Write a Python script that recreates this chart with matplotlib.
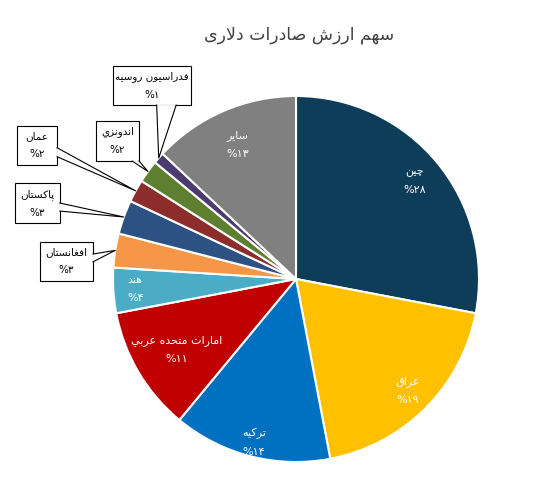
import numpy as np
import matplotlib.pyplot as plt
from matplotlib.patches import Rectangle, Polygon

# داده‌ها
title = 'سهم ارزش صادرات دلاری'
names = ['چین', 'عراق', 'ترکیه', 'امارات متحده عربي', 'هند', 'افغانستان',
         'پاکستان', 'عمان', 'اندونزي', 'فدراسیون روسیه', 'سایر']
shares = [28, 19, 14, 11, 4, 3, 3, 2, 2, 1, 13]
colors = ['#0D3D59', '#FFC000', '#0070C0', '#C00000', '#4BACC6', '#F79646',
          '#2E5183', '#8C2D2B', '#5F7F30', '#4B3B70', '#808080']

# حروف عربی/فارسی: (تنها، پایانی، آغازی، میانی)
FORMS = {
    'ا': (0xFE8D, 0xFE8E, None, None), 'ب': (0xFE8F, 0xFE90, 0xFE91, 0xFE92),
    'ت': (0xFE95, 0xFE96, 0xFE97, 0xFE98), 'ج': (0xFE9D, 0xFE9E, 0xFE9F, 0xFEA0),
    'ح': (0xFEA1, 0xFEA2, 0xFEA3, 0xFEA4), 'د': (0xFEA9, 0xFEAA, None, None),
    'ر': (0xFEAD, 0xFEAE, None, None), 'ز': (0xFEAF, 0xFEB0, None, None),
    'س': (0xFEB1, 0xFEB2, 0xFEB3, 0xFEB4), 'ش': (0xFEB5, 0xFEB6, 0xFEB7, 0xFEB8),
    'ص': (0xFEB9, 0xFEBA, 0xFEBB, 0xFEBC), 'ع': (0xFEC9, 0xFECA, 0xFECB, 0xFECC),
    'غ': (0xFECD, 0xFECE, 0xFECF, 0xFED0), 'ف': (0xFED1, 0xFED2, 0xFED3, 0xFED4),
    'ق': (0xFED5, 0xFED6, 0xFED7, 0xFED8), 'ل': (0xFEDD, 0xFEDE, 0xFEDF, 0xFEE0),
    'م': (0xFEE1, 0xFEE2, 0xFEE3, 0xFEE4), 'ن': (0xFEE5, 0xFEE6, 0xFEE7, 0xFEE8),
    'ه': (0xFEE9, 0xFEEA, 0xFEEB, 0xFEEC), 'و': (0xFEED, 0xFEEE, None, None),
    'ي': (0xFEF1, 0xFEF2, 0xFEF3, 0xFEF4), 'ی': (0xFBFC, 0xFBFD, 0xFBFE, 0xFBFF),
    'ک': (0xFB8E, 0xFB8F, 0xFB90, 0xFB91), 'پ': (0xFB56, 0xFB57, 0xFB58, 0xFB59),
    'چ': (0xFB7A, 0xFB7B, 0xFB7C, 0xFB7D),
}
FA_DIGITS = str.maketrans('0123456789', '۰۱۲۳۴۵۶۷۸۹')


def shape(text):  # شکل‌دهی حروف و ترتیب دیداری راست به چپ
    out = []
    i = 0
    n = len(text)
    while i < n:
        c = text[i]
        if c not in FORMS:
            out.append(c)
            i += 1
            continue
        prev = i > 0 and text[i - 1] in FORMS and FORMS[text[i - 1]][2] is not None
        if c == 'ل' and i + 1 < n and text[i + 1] == 'ا':
            out.append(chr(0xFEFC if prev else 0xFEFB))
            i += 2
            continue
        nxt = i + 1 < n and text[i + 1] in FORMS and FORMS[c][2] is not None
        iso, fin, ini, med = FORMS[c]
        if prev and nxt:
            code = med
        elif prev:
            code = fin
        elif nxt:
            code = ini
        else:
            code = iso
        out.append(chr(code))
        i += 1
    return ''.join(reversed(out))


def pct(v):
    return '%' + str(v).translate(FA_DIGITS)


plt.rcParams['font.family'] = ['DejaVu Sans']

fig = plt.figure(figsize=(5.46, 4.95), dpi=100)
ax = fig.add_axes([113 / 546, 33 / 495, 366 / 546, 366 / 495])

wedges, _ = ax.pie(shares, colors=colors, startangle=90, counterclock=False,
                   radius=1, wedgeprops=dict(edgecolor='white', linewidth=1.5))
ax.set_xlim(-1, 1)
ax.set_ylim(-1, 1)
ax.axis('off')

# برچسب‌های داخل برش‌ها (شعاع هر برچسب)
inner_r = {0: 0.84, 1: 0.86, 2: 0.92, 3: 0.76, 4: 0.88, 10: 0.80}
# جعبه‌های بیرونی: مرکز، پهنا، ارتفاع، سمت اتصال، بازه اتصال
callouts = {
    5: (-1.254, 0.096, 0.29, 0.213, 'right', 0.31, 0.51),
    6: (-1.413, 0.415, 0.246, 0.219, 'right', 0.50, 0.70),
    7: (-1.415, 0.730, 0.219, 0.213, 'right', 0.56, 0.79),
    8: (-0.975, 0.754, 0.235, 0.219, 'bottom', 0.84, 1.0),
    9: (-0.787, 1.057, 0.426, 0.213, 'bottom', 0.56, 0.81),
}

for k, w in enumerate(wedges):
    mid = np.deg2rad((w.theta1 + w.theta2) / 2)
    label = shape(names[k]) + '\n' + pct(shares[k])
    if k in inner_r:
        r = inner_r[k]
        ax.text(r * np.cos(mid), r * np.sin(mid), label, ha='center', va='center',
                color='white', fontsize=8, linespacing=2.0)
    else:
        cx, cy, bw, bh, side, f0, f1 = callouts[k]
        left, top = cx - bw / 2, cy + bh / 2
        tip = (np.cos(mid), np.sin(mid))
        if side == 'right':
            b0 = (left + bw, top - f0 * bh)
            b1 = (left + bw, top - f1 * bh)
        else:
            b0 = (left + f0 * bw, top - bh)
            b1 = (left + f1 * bw, top - bh)
        ax.add_patch(Rectangle((left, top - bh), bw, bh, facecolor='white',
                               edgecolor='black', linewidth=0.8, clip_on=False, zorder=3))
        ax.add_patch(Polygon([b0, b1, tip], closed=True, facecolor='white',
                             edgecolor='none', clip_on=False, zorder=4))
        ax.plot([b0[0], tip[0], b1[0]], [b0[1], tip[1], b1[1]], color='black',
                linewidth=0.8, clip_on=False, zorder=5)
        ax.text(cx, cy, label, ha='center', va='center', color='black',
                fontsize=7.5, linespacing=2.0, zorder=6)

fig.text(299 / 546, 1 - 35 / 495, shape(title), ha='center', va='center',
         fontsize=12.5, color='#404040')

fig.savefig('out.png', dpi=100)
